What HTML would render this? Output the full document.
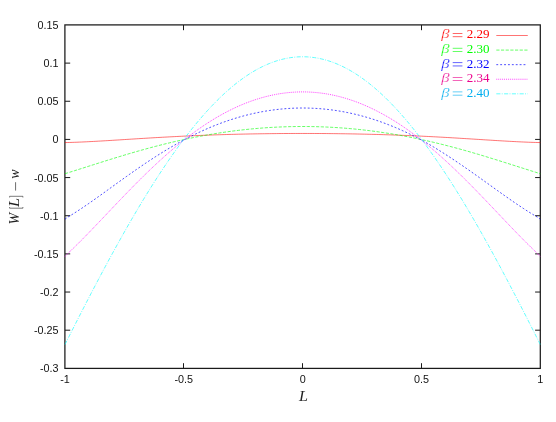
<!DOCTYPE html>
<html><head><meta charset="utf-8"><title>plot</title>
<style>
html,body{margin:0;padding:0;background:#fff;}
body{width:556px;height:422px;overflow:hidden;font-family:"Liberation Sans",sans-serif;}
svg{display:block;will-change:transform;}
.t{font-family:"Liberation Sans",sans-serif;font-size:10.8px;fill:#111;}
.s{font-family:"Liberation Serif",serif;}
</style></head><body>
<svg width="556" height="422" viewBox="0 0 556 422">
<rect width="556" height="422" fill="#fff"/>
<g stroke="#1a1a1a" stroke-width="1.25" fill="none">
<rect x="64.9" y="24.9" width="475.4" height="343.5"/>
</g>
<g stroke="#1a1a1a" stroke-width="1.0" fill="none">
<path d="M65.0 63.11h5.2M540.3 63.11h-5.2"/>
<path d="M65.0 101.26h5.2M540.3 101.26h-5.2"/>
<path d="M65.0 139.42h5.2M540.3 139.42h-5.2"/>
<path d="M65.0 177.57h5.2M540.3 177.57h-5.2"/>
<path d="M65.0 215.73h5.2M540.3 215.73h-5.2"/>
<path d="M65.0 253.88h5.2M540.3 253.88h-5.2"/>
<path d="M65.0 292.04h5.2M540.3 292.04h-5.2"/>
<path d="M65.0 330.19h5.2M540.3 330.19h-5.2"/>
<path d="M183.5 368.4v-5.2M183.5 25.0v5.2"/>
<path d="M302.5 368.4v-5.2M302.5 25.0v5.2"/>
<path d="M421.5 368.4v-5.2M421.5 25.0v5.2"/>
</g>
<polyline fill="none" stroke="#ff0000" stroke-width="0.55" points="65.00,142.58 67.38,142.53 69.75,142.46 72.13,142.39 74.51,142.30 76.88,142.22 79.26,142.12 81.64,142.02 84.01,141.91 86.39,141.80 88.76,141.68 91.14,141.56 93.52,141.43 95.89,141.31 98.27,141.17 100.65,141.04 103.02,140.90 105.40,140.76 107.78,140.61 110.15,140.47 112.53,140.32 114.91,140.17 117.28,140.02 119.66,139.88 122.04,139.73 124.41,139.57 126.79,139.42 129.17,139.27 131.54,139.12 133.92,138.97 136.30,138.82 138.67,138.68 141.05,138.53 143.42,138.38 145.80,138.24 148.18,138.09 150.55,137.95 152.93,137.81 155.31,137.67 157.68,137.53 160.06,137.40 162.44,137.26 164.81,137.13 167.19,137.00 169.57,136.87 171.94,136.75 174.32,136.63 176.70,136.50 179.07,136.39 181.45,136.27 183.82,136.15 186.20,136.04 188.58,135.93 190.95,135.83 193.33,135.72 195.71,135.62 198.08,135.52 200.46,135.42 202.84,135.33 205.21,135.24 207.59,135.15 209.97,135.06 212.34,134.98 214.72,134.89 217.10,134.81 219.47,134.74 221.85,134.66 224.23,134.59 226.60,134.52 228.98,134.45 231.35,134.39 233.73,134.33 236.11,134.27 238.48,134.21 240.86,134.15 243.24,134.10 245.61,134.05 247.99,134.00 250.37,133.95 252.74,133.91 255.12,133.87 257.50,133.83 259.87,133.79 262.25,133.75 264.63,133.72 267.00,133.69 269.38,133.66 271.76,133.63 274.13,133.61 276.51,133.58 278.88,133.56 281.26,133.54 283.64,133.53 286.01,133.51 288.39,133.50 290.77,133.49 293.14,133.48 295.52,133.47 297.90,133.47 300.27,133.46 302.65,133.46 305.03,133.46 307.40,133.47 309.78,133.47 312.16,133.48 314.53,133.49 316.91,133.50 319.29,133.51 321.66,133.53 324.04,133.54 326.42,133.56 328.79,133.58 331.17,133.61 333.54,133.63 335.92,133.66 338.30,133.69 340.67,133.72 343.05,133.75 345.43,133.79 347.80,133.83 350.18,133.87 352.56,133.91 354.93,133.95 357.31,134.00 359.69,134.05 362.06,134.10 364.44,134.15 366.82,134.21 369.19,134.27 371.57,134.33 373.94,134.39 376.32,134.45 378.70,134.52 381.07,134.59 383.45,134.66 385.83,134.74 388.20,134.81 390.58,134.89 392.96,134.98 395.33,135.06 397.71,135.15 400.09,135.24 402.46,135.33 404.84,135.42 407.22,135.52 409.59,135.62 411.97,135.72 414.35,135.83 416.72,135.93 419.10,136.04 421.47,136.15 423.85,136.27 426.23,136.39 428.60,136.50 430.98,136.63 433.36,136.75 435.73,136.87 438.11,137.00 440.49,137.13 442.86,137.26 445.24,137.40 447.62,137.53 449.99,137.67 452.37,137.81 454.75,137.95 457.12,138.09 459.50,138.24 461.88,138.38 464.25,138.53 466.63,138.68 469.00,138.82 471.38,138.97 473.76,139.12 476.13,139.27 478.51,139.42 480.89,139.57 483.26,139.73 485.64,139.88 488.02,140.02 490.39,140.17 492.77,140.32 495.15,140.47 497.52,140.61 499.90,140.76 502.28,140.90 504.65,141.04 507.03,141.17 509.41,141.31 511.78,141.43 514.16,141.56 516.53,141.68 518.91,141.80 521.29,141.91 523.66,142.02 526.04,142.12 528.42,142.22 530.79,142.30 533.17,142.39 535.55,142.46 537.92,142.53 540.30,142.58"/>
<polyline fill="none" stroke="#00ff00" stroke-width="0.6" stroke-dasharray="3.2 1.47" points="65.00,173.70 67.38,172.96 69.75,172.22 72.13,171.48 74.51,170.73 76.88,169.98 79.26,169.23 81.64,168.48 84.01,167.72 86.39,166.97 88.76,166.21 91.14,165.46 93.52,164.70 95.89,163.95 98.27,163.19 100.65,162.44 103.02,161.69 105.40,160.95 107.78,160.20 110.15,159.46 112.53,158.73 114.91,157.99 117.28,157.27 119.66,156.54 122.04,155.82 124.41,155.11 126.79,154.40 129.17,153.70 131.54,153.00 133.92,152.31 136.30,151.63 138.67,150.95 141.05,150.28 143.42,149.62 145.80,148.96 148.18,148.31 150.55,147.67 152.93,147.04 155.31,146.41 157.68,145.80 160.06,145.19 162.44,144.59 164.81,143.99 167.19,143.41 169.57,142.83 171.94,142.27 174.32,141.71 176.70,141.16 179.07,140.63 181.45,140.10 183.82,139.58 186.20,139.07 188.58,138.56 190.95,138.07 193.33,137.59 195.71,137.12 198.08,136.66 200.46,136.21 202.84,135.76 205.21,135.33 207.59,134.91 209.97,134.50 212.34,134.09 214.72,133.70 217.10,133.32 219.47,132.95 221.85,132.59 224.23,132.24 226.60,131.90 228.98,131.57 231.35,131.25 233.73,130.94 236.11,130.64 238.48,130.35 240.86,130.07 243.24,129.80 245.61,129.54 247.99,129.30 250.37,129.06 252.74,128.83 255.12,128.62 257.50,128.41 259.87,128.22 262.25,128.03 264.63,127.86 267.00,127.70 269.38,127.54 271.76,127.40 274.13,127.27 276.51,127.15 278.88,127.04 281.26,126.94 283.64,126.85 286.01,126.77 288.39,126.70 290.77,126.64 293.14,126.60 295.52,126.56 297.90,126.53 300.27,126.52 302.65,126.51 305.03,126.52 307.40,126.53 309.78,126.56 312.16,126.60 314.53,126.64 316.91,126.70 319.29,126.77 321.66,126.85 324.04,126.94 326.42,127.04 328.79,127.15 331.17,127.27 333.54,127.40 335.92,127.54 338.30,127.70 340.67,127.86 343.05,128.03 345.43,128.22 347.80,128.41 350.18,128.62 352.56,128.83 354.93,129.06 357.31,129.30 359.69,129.54 362.06,129.80 364.44,130.07 366.82,130.35 369.19,130.64 371.57,130.94 373.94,131.25 376.32,131.57 378.70,131.90 381.07,132.24 383.45,132.59 385.83,132.95 388.20,133.32 390.58,133.70 392.96,134.09 395.33,134.50 397.71,134.91 400.09,135.33 402.46,135.76 404.84,136.21 407.22,136.66 409.59,137.12 411.97,137.59 414.35,138.07 416.72,138.56 419.10,139.07 421.47,139.58 423.85,140.10 426.23,140.63 428.60,141.16 430.98,141.71 433.36,142.27 435.73,142.83 438.11,143.41 440.49,143.99 442.86,144.59 445.24,145.19 447.62,145.80 449.99,146.41 452.37,147.04 454.75,147.67 457.12,148.31 459.50,148.96 461.88,149.62 464.25,150.28 466.63,150.95 469.00,151.63 471.38,152.31 473.76,153.00 476.13,153.70 478.51,154.40 480.89,155.11 483.26,155.82 485.64,156.54 488.02,157.27 490.39,157.99 492.77,158.73 495.15,159.46 497.52,160.20 499.90,160.95 502.28,161.69 504.65,162.44 507.03,163.19 509.41,163.95 511.78,164.70 514.16,165.46 516.53,166.21 518.91,166.97 521.29,167.72 523.66,168.48 526.04,169.23 528.42,169.98 530.79,170.73 533.17,171.48 535.55,172.22 537.92,172.96 540.30,173.70"/>
<polyline fill="none" stroke="#0000ff" stroke-width="0.7" stroke-dasharray="1.9 1.99" points="65.00,219.18 67.38,217.39 69.75,215.96 72.13,214.50 74.51,213.00 76.88,211.48 79.26,209.92 81.64,208.35 84.01,206.75 86.39,205.13 88.76,203.49 91.14,201.83 93.52,200.16 95.89,198.48 98.27,196.78 100.65,195.08 103.02,193.37 105.40,191.66 107.78,189.94 110.15,188.22 112.53,186.51 114.91,184.79 117.28,183.07 119.66,181.36 122.04,179.65 124.41,177.95 126.79,176.25 129.17,174.57 131.54,172.89 133.92,171.22 136.30,169.57 138.67,167.92 141.05,166.29 143.42,164.68 145.80,163.08 148.18,161.49 150.55,159.92 152.93,158.37 155.31,156.84 157.68,155.32 160.06,153.83 162.44,152.35 164.81,150.89 167.19,149.45 169.57,148.04 171.94,146.64 174.32,145.27 176.70,143.92 179.07,142.59 181.45,141.29 183.82,140.00 186.20,138.75 188.58,137.51 190.95,136.30 193.33,135.11 195.71,133.95 198.08,132.81 200.46,131.70 202.84,130.61 205.21,129.54 207.59,128.51 209.97,127.49 212.34,126.50 214.72,125.54 217.10,124.61 219.47,123.69 221.85,122.81 224.23,121.95 226.60,121.11 228.98,120.31 231.35,119.52 233.73,118.77 236.11,118.04 238.48,117.33 240.86,116.65 243.24,116.00 245.61,115.37 247.99,114.77 250.37,114.19 252.74,113.64 255.12,113.12 257.50,112.62 259.87,112.15 262.25,111.70 264.63,111.28 267.00,110.88 269.38,110.51 271.76,110.17 274.13,109.85 276.51,109.56 278.88,109.29 281.26,109.05 283.64,108.83 286.01,108.64 288.39,108.47 290.77,108.33 293.14,108.22 295.52,108.13 297.90,108.07 300.27,108.03 302.65,108.02 305.03,108.03 307.40,108.07 309.78,108.13 312.16,108.22 314.53,108.33 316.91,108.47 319.29,108.64 321.66,108.83 324.04,109.05 326.42,109.29 328.79,109.56 331.17,109.85 333.54,110.17 335.92,110.51 338.30,110.88 340.67,111.28 343.05,111.70 345.43,112.15 347.80,112.62 350.18,113.12 352.56,113.64 354.93,114.19 357.31,114.77 359.69,115.37 362.06,116.00 364.44,116.65 366.82,117.33 369.19,118.04 371.57,118.77 373.94,119.52 376.32,120.31 378.70,121.11 381.07,121.95 383.45,122.81 385.83,123.69 388.20,124.61 390.58,125.54 392.96,126.50 395.33,127.49 397.71,128.51 400.09,129.54 402.46,130.61 404.84,131.70 407.22,132.81 409.59,133.95 411.97,135.11 414.35,136.30 416.72,137.51 419.10,138.75 421.47,140.00 423.85,141.33 426.23,142.68 428.60,144.05 430.98,145.45 433.36,146.86 435.73,148.30 438.11,149.75 440.49,151.23 442.86,152.72 445.24,154.24 447.62,155.77 449.99,157.32 452.37,158.88 454.75,160.46 457.12,162.06 459.50,163.67 461.88,165.29 464.25,166.93 466.63,168.57 469.00,170.23 471.38,171.90 473.76,173.58 476.13,175.26 478.51,176.95 480.89,178.65 483.26,180.35 485.64,182.05 488.02,183.76 490.39,185.46 492.77,187.17 495.15,188.88 497.52,190.58 499.90,192.27 502.28,193.97 504.65,195.65 507.03,197.32 509.41,198.99 511.78,200.64 514.16,202.28 516.53,203.90 518.91,205.50 521.29,207.08 523.66,208.64 526.04,210.18 528.42,211.69 530.79,213.18 533.17,214.63 535.55,216.05 537.92,217.43 540.30,219.18"/>
<polyline fill="none" stroke="#ff00ff" stroke-width="0.75" stroke-dasharray="0.95 0.995" points="65.00,256.62 67.38,253.92 69.75,251.68 72.13,249.41 74.51,247.11 76.88,244.78 79.26,242.42 81.64,240.03 84.01,237.63 86.39,235.20 88.76,232.76 91.14,230.30 93.52,227.83 95.89,225.35 98.27,222.87 100.65,220.37 103.02,217.87 105.40,215.37 107.78,212.86 110.15,210.36 112.53,207.86 114.91,205.36 117.28,202.87 119.66,200.38 122.04,197.90 124.41,195.44 126.79,192.98 129.17,190.54 131.54,188.11 133.92,185.69 136.30,183.29 138.67,180.91 141.05,178.55 143.42,176.20 145.80,173.88 148.18,171.58 150.55,169.30 152.93,167.04 155.31,164.80 157.68,162.60 160.06,160.41 162.44,158.26 164.81,156.13 167.19,154.02 169.57,151.95 171.94,149.90 174.32,147.89 176.70,145.90 179.07,143.95 181.45,142.02 183.82,140.13 186.20,138.27 188.58,136.45 190.95,134.65 193.33,132.89 195.71,131.16 198.08,129.47 200.46,127.81 202.84,126.19 205.21,124.60 207.59,123.05 209.97,121.53 212.34,120.05 214.72,118.60 217.10,117.19 219.47,115.82 221.85,114.49 224.23,113.19 226.60,111.93 228.98,110.71 231.35,109.52 233.73,108.37 236.11,107.26 238.48,106.19 240.86,105.16 243.24,104.16 245.61,103.20 247.99,102.28 250.37,101.40 252.74,100.56 255.12,99.76 257.50,98.99 259.87,98.27 262.25,97.58 264.63,96.93 267.00,96.33 269.38,95.76 271.76,95.23 274.13,94.74 276.51,94.28 278.88,93.87 281.26,93.50 283.64,93.16 286.01,92.87 288.39,92.61 290.77,92.40 293.14,92.22 295.52,92.08 297.90,91.98 300.27,91.92 302.65,91.90 305.03,91.92 307.40,91.98 309.78,92.08 312.16,92.22 314.53,92.40 316.91,92.61 319.29,92.87 321.66,93.16 324.04,93.50 326.42,93.87 328.79,94.28 331.17,94.74 333.54,95.23 335.92,95.76 338.30,96.33 340.67,96.93 343.05,97.58 345.43,98.27 347.80,98.99 350.18,99.76 352.56,100.56 354.93,101.40 357.31,102.28 359.69,103.20 362.06,104.16 364.44,105.16 366.82,106.19 369.19,107.26 371.57,108.37 373.94,109.52 376.32,110.71 378.70,111.93 381.07,113.19 383.45,114.49 385.83,115.82 388.20,117.19 390.58,118.60 392.96,120.05 395.33,121.53 397.71,123.05 400.09,124.60 402.46,126.19 404.84,127.81 407.22,129.47 409.59,131.16 411.97,132.89 414.35,134.65 416.72,136.45 419.10,138.27 421.47,140.13 423.85,142.02 426.23,143.95 428.60,145.90 430.98,147.89 433.36,149.90 435.73,151.95 438.11,154.02 440.49,156.13 442.86,158.26 445.24,160.41 447.62,162.60 449.99,164.80 452.37,167.04 454.75,169.30 457.12,171.58 459.50,173.88 461.88,176.20 464.25,178.55 466.63,180.91 469.00,183.29 471.38,185.69 473.76,188.11 476.13,190.54 478.51,192.98 480.89,195.44 483.26,197.90 485.64,200.38 488.02,202.87 490.39,205.36 492.77,207.86 495.15,210.36 497.52,212.86 499.90,215.37 502.28,217.87 504.65,220.37 507.03,222.87 509.41,225.35 511.78,227.83 514.16,230.30 516.53,232.76 518.91,235.20 521.29,237.63 523.66,240.03 526.04,242.42 528.42,244.78 530.79,247.11 533.17,249.41 535.55,251.68 537.92,253.92 540.30,256.62"/>
<polyline fill="none" stroke="#00ffff" stroke-width="0.62" stroke-dasharray="4.1 1.35 0.9 1.43" points="65.00,344.53 67.38,339.80 69.75,335.08 72.13,330.37 74.51,325.68 76.88,321.00 79.26,316.34 81.64,311.70 84.01,307.08 86.39,302.47 88.76,297.89 91.14,293.32 93.52,288.77 95.89,284.25 98.27,279.75 100.65,275.27 103.02,270.82 105.40,266.39 107.78,261.98 110.15,257.60 112.53,253.25 114.91,248.93 117.28,244.64 119.66,240.37 122.04,236.14 124.41,231.93 126.79,227.76 129.17,223.62 131.54,219.52 133.92,215.45 136.30,211.41 138.67,207.41 141.05,203.45 143.42,199.52 145.80,195.64 148.18,191.79 150.55,187.98 152.93,184.21 155.31,180.49 157.68,176.80 160.06,173.16 162.44,169.56 164.81,166.01 167.19,162.50 169.57,159.04 171.94,155.63 174.32,152.26 176.70,148.94 179.07,145.67 181.45,142.45 183.82,139.28 186.20,136.16 188.58,133.09 190.95,130.07 193.33,127.11 195.71,124.20 198.08,121.34 200.46,118.54 202.84,115.79 205.21,113.10 207.59,110.47 209.97,107.90 212.34,105.38 214.72,102.92 217.10,100.52 219.47,98.17 221.85,95.89 224.23,93.67 226.60,91.51 228.98,89.41 231.35,87.37 233.73,85.40 236.11,83.48 238.48,81.64 240.86,79.85 243.24,78.13 245.61,76.47 247.99,74.88 250.37,73.35 252.74,71.89 255.12,70.49 257.50,69.16 259.87,67.90 262.25,66.70 264.63,65.57 267.00,64.51 269.38,63.51 271.76,62.58 274.13,61.72 276.51,60.93 278.88,60.21 281.26,59.55 283.64,58.97 286.01,58.45 288.39,58.00 290.77,57.62 293.14,57.31 295.52,57.06 297.90,56.89 300.27,56.79 302.65,56.75 305.03,56.79 307.40,56.89 309.78,57.06 312.16,57.31 314.53,57.62 316.91,58.00 319.29,58.45 321.66,58.97 324.04,59.55 326.42,60.21 328.79,60.93 331.17,61.72 333.54,62.58 335.92,63.51 338.30,64.51 340.67,65.57 343.05,66.70 345.43,67.90 347.80,69.16 350.18,70.49 352.56,71.89 354.93,73.35 357.31,74.88 359.69,76.47 362.06,78.13 364.44,79.85 366.82,81.64 369.19,83.48 371.57,85.40 373.94,87.37 376.32,89.41 378.70,91.51 381.07,93.67 383.45,95.89 385.83,98.17 388.20,100.52 390.58,102.92 392.96,105.38 395.33,107.90 397.71,110.47 400.09,113.10 402.46,115.79 404.84,118.54 407.22,121.34 409.59,124.20 411.97,127.11 414.35,130.07 416.72,133.09 419.10,136.16 421.47,139.28 423.85,142.45 426.23,145.67 428.60,148.94 430.98,152.26 433.36,155.63 435.73,159.04 438.11,162.50 440.49,166.01 442.86,169.56 445.24,173.16 447.62,176.80 449.99,180.49 452.37,184.21 454.75,187.98 457.12,191.79 459.50,195.64 461.88,199.52 464.25,203.45 466.63,207.41 469.00,211.41 471.38,215.45 473.76,219.52 476.13,223.62 478.51,227.76 480.89,231.93 483.26,236.14 485.64,240.37 488.02,244.64 490.39,248.93 492.77,253.25 495.15,257.60 497.52,261.98 499.90,266.39 502.28,270.82 504.65,275.27 507.03,279.75 509.41,284.25 511.78,288.77 514.16,293.32 516.53,297.89 518.91,302.47 521.29,307.08 523.66,311.70 526.04,316.34 528.42,321.00 530.79,325.68 533.17,330.37 535.55,335.08 537.92,339.80 540.30,344.53"/>
<text class="t" x="58.6" y="28.90" text-anchor="end">0.15</text>
<text class="t" x="58.6" y="67.06" text-anchor="end">0.1</text>
<text class="t" x="58.6" y="105.21" text-anchor="end">0.05</text>
<text class="t" x="58.6" y="143.37" text-anchor="end">0</text>
<text class="t" x="58.6" y="181.52" text-anchor="end">-0.05</text>
<text class="t" x="58.6" y="219.68" text-anchor="end">-0.1</text>
<text class="t" x="58.6" y="257.83" text-anchor="end">-0.15</text>
<text class="t" x="58.6" y="295.99" text-anchor="end">-0.2</text>
<text class="t" x="58.6" y="334.14" text-anchor="end">-0.25</text>
<text class="t" x="58.6" y="372.30" text-anchor="end">-0.3</text>
<text class="t" x="65.00" y="382.9" text-anchor="middle">-1</text>
<text class="t" x="183.82" y="382.9" text-anchor="middle">-0.5</text>
<text class="t" x="302.65" y="382.9" text-anchor="middle">0</text>
<text class="t" x="421.47" y="382.9" text-anchor="middle">0.5</text>
<text class="t" x="540.30" y="382.9" text-anchor="middle">1</text>
<text class="s" transform="translate(298.9,400.6) scale(1.15,1)" font-size="14" font-style="italic" fill="#222">L</text>
<g transform="translate(19.2,223.6) rotate(-90)" class="s" font-size="14" fill="#222"><text x="-0.8" y="0" font-style="italic">W</text><path d="M16.6 -9.6H15.4V3.7H16.6" fill="none" stroke="#222" stroke-width="0.6"/><text transform="translate(16.7,0) scale(1.15,1)" font-style="italic">L</text><path d="M26.1 -9.6H27.3V3.7H26.1" fill="none" stroke="#222" stroke-width="0.6"/><rect x="33" y="-3.8" width="8.4" height="0.65"/><text x="44.9" y="0" font-style="italic">w</text></g>
<g class="s" font-size="13" fill="#ff0000"><text transform="translate(441.3,38.40) scale(1.32,1)" font-style="italic" font-size="12.6" stroke="#fff" stroke-width="0.25">β</text><rect x="452.7" y="33.30" width="9.7" height="0.6"/><rect x="452.7" y="36.50" width="9.7" height="0.6"/><text x="489.5" y="38.40" text-anchor="end">2.29</text></g>
<path d="M496.3 35.50H527.8" stroke="#ff0000" stroke-width="0.55" fill="none"/>
<g class="s" font-size="13" fill="#00ff00"><text transform="translate(441.3,52.98) scale(1.32,1)" font-style="italic" font-size="12.6" stroke="#fff" stroke-width="0.25">β</text><rect x="452.7" y="47.88" width="9.7" height="0.6"/><rect x="452.7" y="51.08" width="9.7" height="0.6"/><text x="489.5" y="52.98" text-anchor="end">2.30</text></g>
<path d="M496.3 50.08H527.8" stroke="#00ff00" stroke-width="0.6" stroke-dasharray="3.2 1.47" fill="none"/>
<g class="s" font-size="13" fill="#0000ff"><text transform="translate(441.3,67.56) scale(1.32,1)" font-style="italic" font-size="12.6" stroke="#fff" stroke-width="0.25">β</text><rect x="452.7" y="62.46" width="9.7" height="0.6"/><rect x="452.7" y="65.66" width="9.7" height="0.6"/><text x="489.5" y="67.56" text-anchor="end">2.32</text></g>
<path d="M496.3 64.66H527.2" stroke="#0000ff" stroke-width="0.7" stroke-dasharray="1.9 1.99" fill="none"/>
<g class="s" font-size="13" fill="#ec008c"><text transform="translate(441.3,82.14) scale(1.32,1)" font-style="italic" font-size="12.6" stroke="#fff" stroke-width="0.25">β</text><rect x="452.7" y="77.04" width="9.7" height="0.6"/><rect x="452.7" y="80.24" width="9.7" height="0.6"/><text x="489.5" y="82.14" text-anchor="end">2.34</text></g>
<path d="M496.3 79.24H527.8" stroke="#ff00ff" stroke-width="0.75" stroke-dasharray="0.95 0.995" fill="none"/>
<g class="s" font-size="13" fill="#00aeef"><text transform="translate(441.3,96.72) scale(1.32,1)" font-style="italic" font-size="12.6" stroke="#fff" stroke-width="0.25">β</text><rect x="452.7" y="91.62" width="9.7" height="0.6"/><rect x="452.7" y="94.82" width="9.7" height="0.6"/><text x="489.5" y="96.72" text-anchor="end">2.40</text></g>
<path d="M496.3 93.82H527.8" stroke="#00ffff" stroke-width="0.62" stroke-dasharray="4.1 1.35 0.9 1.43" fill="none"/>
</svg>
</body></html>
